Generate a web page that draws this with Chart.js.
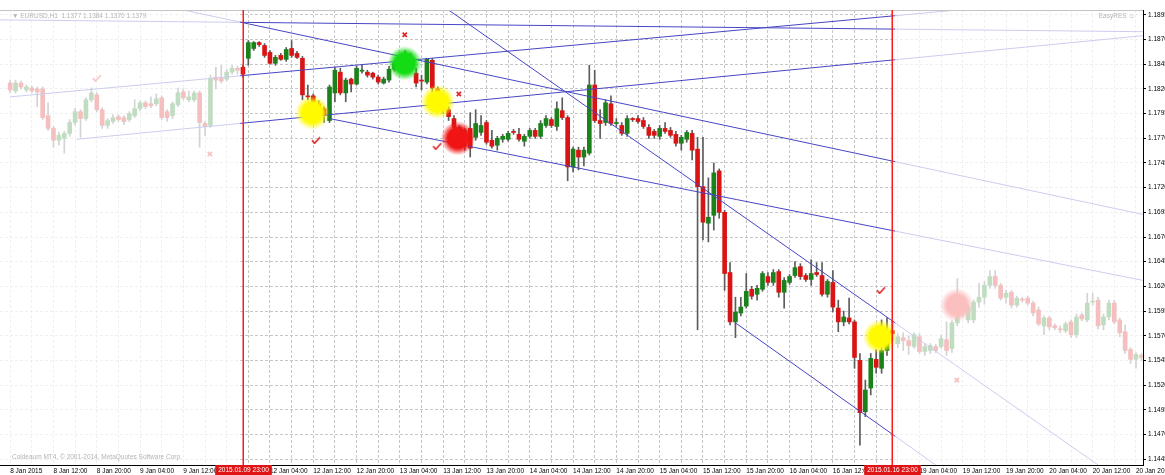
<!DOCTYPE html>
<html>
<head>
<meta charset="utf-8">
<script src="https://cdn.jsdelivr.net/npm/chart.js@4.4.1/dist/chart.umd.min.js"></script>
<style>
  html, body { margin: 0; padding: 0; background: #fff; }
  #wrap { width: 1165px; height: 475px; }
</style>
</head>
<body>
<div id="wrap"><canvas id="chart" width="1165" height="475"></canvas></div>
<script>
// EURUSD H1, bar index = hours since 8 Jan 2015 00:00 (weekend hours skipped)
var firstBar = 4;
var viewFrom = 2.12, viewTo = 213.3;

var opens = [
  1.1826, 1.1818, 1.1826, 1.1819, 1.1821, 1.1820, 1.1820, 1.1793, 1.1780, 1.1768,
  1.1770, 1.1775, 1.1786, 1.1797, 1.1790, 1.1809, 1.1814, 1.1799, 1.1783, 1.1787,
  1.1792, 1.1791, 1.1789, 1.1793, 1.1800, 1.1806, 1.1805, 1.1805, 1.1811, 1.1797,
  1.1793, 1.1804, 1.1817, 1.1809, 1.1809, 1.1816, 1.1785, 1.1783, 1.1832, 1.1831,
  1.1830, 1.1837, 1.1841, 1.1842, 1.1851, 1.1861, 1.1867, 1.1864, 1.1857, 1.1846,
  1.1854, 1.1850, 1.1861, 1.1856, 1.1851, 1.1813, 1.1813, 1.1805, 1.1800, 1.1788,
  1.1816, 1.1837, 1.1816, 1.1830, 1.1825, 1.1838, 1.1837, 1.1836, 1.1832, 1.1826,
  1.1829, 1.1840, 1.1846, 1.1852, 1.1848, 1.1836, 1.1829, 1.1827, 1.1849, 1.1820,
  1.1804, 1.1799, 1.1790, 1.1781, 1.1770, 1.1780, 1.1771, 1.1776, 1.1786, 1.1768,
  1.1763, 1.1769, 1.1769, 1.1777, 1.1774, 1.1767, 1.1772, 1.1778, 1.1772, 1.1783,
  1.1789, 1.1782, 1.1798, 1.1791, 1.1741, 1.1758, 1.1751, 1.1755, 1.1824, 1.1788,
  1.1786, 1.1805, 1.1785, 1.1783, 1.1775, 1.1790, 1.1790, 1.1788, 1.1781, 1.1777,
  1.1772, 1.1780, 1.1778, 1.1774, 1.1765, 1.1769, 1.1775, 1.1759, 1.1721, 1.1684,
  1.1692, 1.1737, 1.1695, 1.1634, 1.1584, 1.1593, 1.1600, 1.1617, 1.1612, 1.1617,
  1.1630, 1.1624, 1.1635, 1.1614, 1.1624, 1.1631, 1.1640, 1.1631, 1.1627, 1.1634,
  1.1631, 1.1612, 1.1624, 1.1598, 1.1584, 1.1588, 1.1584, 1.1545, 1.1493, 1.1517,
  1.1546, 1.1537, 1.1555, 1.1575, 1.1562, 1.1568, 1.1565, 1.1559, 1.1569, 1.1554,
  1.1555, 1.1559, 1.1559, 1.1566, 1.1557, 1.1583, 1.1600, 1.1586, 1.1586, 1.1604,
  1.1609, 1.1621, 1.1630, 1.1621, 1.1609, 1.1614, 1.1601, 1.1607, 1.1608, 1.1603,
  1.1596, 1.1580, 1.1588, 1.1580, 1.1577, 1.1575, 1.1584, 1.1571, 1.1591, 1.1586,
  1.1604, 1.1606, 1.1581, 1.1589, 1.1603, 1.1586, 1.1574, 1.1556, 1.1546, 1.1550
];
var highs = [
  1.1829, 1.1829, 1.1828, 1.1824, 1.1823, 1.1822, 1.1822, 1.1806, 1.1782, 1.1776,
  1.1777, 1.1789, 1.1800, 1.1799, 1.1811, 1.1821, 1.1816, 1.1801, 1.1790, 1.1794,
  1.1794, 1.1793, 1.1797, 1.1809, 1.1808, 1.1808, 1.1812, 1.1815, 1.1813, 1.1799,
  1.1807, 1.1821, 1.1820, 1.1818, 1.1818, 1.1818, 1.1787, 1.1834, 1.1842, 1.1844,
  1.1840, 1.1844, 1.1843, 1.1844, 1.1869, 1.1868, 1.1868, 1.1866, 1.1859, 1.1854,
  1.1856, 1.1862, 1.1869, 1.1858, 1.1853, 1.1824, 1.1815, 1.1808, 1.1802, 1.1824,
  1.1842, 1.1841, 1.1831, 1.1831, 1.1843, 1.1844, 1.1839, 1.1837, 1.1834, 1.1832,
  1.1843, 1.1848, 1.1854, 1.1859, 1.1856, 1.1841, 1.1834, 1.1851, 1.1851, 1.1822,
  1.1806, 1.1802, 1.1793, 1.1783, 1.1780, 1.1796, 1.1799, 1.1793, 1.1788, 1.1778,
  1.1772, 1.1774, 1.1777, 1.1779, 1.1780, 1.1774, 1.1780, 1.1780, 1.1788, 1.1793,
  1.1791, 1.1807, 1.1811, 1.1793, 1.1761, 1.1761, 1.1761, 1.1844, 1.1839, 1.1799,
  1.1809, 1.1813, 1.1790, 1.1786, 1.1793, 1.1791, 1.1793, 1.1791, 1.1784, 1.1779,
  1.1783, 1.1786, 1.1781, 1.1777, 1.1773, 1.1778, 1.1778, 1.1771, 1.1771, 1.1730,
  1.1745, 1.1739, 1.1697, 1.1644, 1.1609, 1.1609, 1.1633, 1.1620, 1.1621, 1.1635,
  1.1634, 1.1637, 1.1637, 1.1629, 1.1632, 1.1645, 1.1643, 1.1633, 1.1647, 1.1644,
  1.1644, 1.1627, 1.1636, 1.1606, 1.1595, 1.1608, 1.1586, 1.1552, 1.1525, 1.1552,
  1.1556, 1.1586, 1.1588, 1.1585, 1.1572, 1.1573, 1.1570, 1.1573, 1.1572, 1.1562,
  1.1562, 1.1561, 1.1571, 1.1584, 1.1585, 1.1628, 1.1605, 1.1601, 1.1606, 1.1623,
  1.1625, 1.1636, 1.1636, 1.1623, 1.1616, 1.1616, 1.1610, 1.1609, 1.1610, 1.1605,
  1.1599, 1.1590, 1.1590, 1.1582, 1.1580, 1.1584, 1.1586, 1.1592, 1.1593, 1.1613,
  1.1613, 1.1609, 1.1592, 1.1606, 1.1606, 1.1588, 1.1581, 1.1558, 1.1553, 1.1552
];
var lows = [
  1.1816, 1.1816, 1.1820, 1.1817, 1.1816, 1.1802, 1.1789, 1.1778, 1.1761, 1.1763,
  1.1755, 1.1772, 1.1783, 1.1771, 1.1788, 1.1807, 1.1797, 1.1780, 1.1780, 1.1785,
  1.1787, 1.1784, 1.1787, 1.1791, 1.1798, 1.1800, 1.1801, 1.1803, 1.1789, 1.1787,
  1.1790, 1.1802, 1.1809, 1.1807, 1.1807, 1.1761, 1.1773, 1.1781, 1.1820, 1.1826,
  1.1828, 1.1835, 1.1835, 1.1832, 1.1844, 1.1859, 1.1863, 1.1852, 1.1845, 1.1844,
  1.1849, 1.1848, 1.1852, 1.1851, 1.1809, 1.1809, 1.1798, 1.1790, 1.1786, 1.1786,
  1.1807, 1.1814, 1.1807, 1.1817, 1.1824, 1.1836, 1.1832, 1.1830, 1.1825, 1.1825,
  1.1827, 1.1838, 1.1844, 1.1846, 1.1840, 1.1822, 1.1819, 1.1825, 1.1817, 1.1798,
  1.1795, 1.1788, 1.1778, 1.1762, 1.1758, 1.1751, 1.1768, 1.1773, 1.1764, 1.1760,
  1.1758, 1.1766, 1.1767, 1.1774, 1.1767, 1.1762, 1.1770, 1.1770, 1.1770, 1.1781,
  1.1781, 1.1778, 1.1789, 1.1727, 1.1736, 1.1738, 1.1742, 1.1753, 1.1786, 1.1770,
  1.1783, 1.1783, 1.1782, 1.1773, 1.1772, 1.1787, 1.1785, 1.1780, 1.1770, 1.1770,
  1.1769, 1.1775, 1.1771, 1.1762, 1.1758, 1.1766, 1.1748, 1.1576, 1.1667, 1.1665,
  1.1677, 1.1689, 1.1616, 1.1581, 1.1568, 1.1590, 1.1598, 1.1607, 1.1606, 1.1615,
  1.1621, 1.1621, 1.1609, 1.1598, 1.1622, 1.1629, 1.1627, 1.1625, 1.1621, 1.1630,
  1.1610, 1.1609, 1.1594, 1.1574, 1.1580, 1.1582, 1.1537, 1.1459, 1.1488, 1.1510,
  1.1532, 1.1532, 1.1550, 1.1565, 1.1558, 1.1555, 1.1551, 1.1557, 1.1552, 1.1550,
  1.1552, 1.1553, 1.1557, 1.1550, 1.1553, 1.1580, 1.1590, 1.1583, 1.1583, 1.1599,
  1.1602, 1.1618, 1.1618, 1.1606, 1.1603, 1.1598, 1.1599, 1.1604, 1.1601, 1.1590,
  1.1580, 1.1571, 1.1576, 1.1576, 1.1573, 1.1573, 1.1568, 1.1568, 1.1585, 1.1584,
  1.1601, 1.1577, 1.1576, 1.1586, 1.1582, 1.1569, 1.1552, 1.1542, 1.1537, 1.1545
];
var closes = [
  1.1819, 1.1826, 1.1822, 1.1822, 1.1818, 1.1817, 1.1791, 1.1780, 1.1768, 1.1773,
  1.1775, 1.1786, 1.1797, 1.1790, 1.1809, 1.1816, 1.1799, 1.1783, 1.1788, 1.1791,
  1.1789, 1.1787, 1.1795, 1.1800, 1.1806, 1.1802, 1.1803, 1.1810, 1.1791, 1.1791,
  1.1805, 1.1816, 1.1811, 1.1812, 1.1816, 1.1786, 1.1782, 1.1831, 1.1829, 1.1828,
  1.1837, 1.1841, 1.1839, 1.1835, 1.1867, 1.1867, 1.1865, 1.1854, 1.1846, 1.1852,
  1.1850, 1.1860, 1.1854, 1.1852, 1.1814, 1.1812, 1.1805, 1.1800, 1.1793, 1.1822,
  1.1839, 1.1816, 1.1829, 1.1825, 1.1841, 1.1839, 1.1834, 1.1832, 1.1827, 1.1830,
  1.1840, 1.1846, 1.1852, 1.1848, 1.1842, 1.1826, 1.1828, 1.1850, 1.1821, 1.1804,
  1.1800, 1.1792, 1.1781, 1.1770, 1.1778, 1.1760, 1.1785, 1.1783, 1.1766, 1.1762,
  1.1770, 1.1772, 1.1775, 1.1776, 1.1769, 1.1772, 1.1778, 1.1772, 1.1785, 1.1790,
  1.1783, 1.1800, 1.1791, 1.1741, 1.1759, 1.1751, 1.1758, 1.1824, 1.1788, 1.1785,
  1.1806, 1.1785, 1.1786, 1.1775, 1.1790, 1.1789, 1.1787, 1.1782, 1.1773, 1.1773,
  1.1780, 1.1777, 1.1773, 1.1765, 1.1771, 1.1776, 1.1758, 1.1721, 1.1685, 1.1690,
  1.1735, 1.1695, 1.1633, 1.1584, 1.1594, 1.1599, 1.1615, 1.1610, 1.1618, 1.1633,
  1.1624, 1.1634, 1.1614, 1.1626, 1.1630, 1.1639, 1.1630, 1.1627, 1.1633, 1.1632,
  1.1612, 1.1625, 1.1599, 1.1584, 1.1589, 1.1584, 1.1548, 1.1492, 1.1515, 1.1547,
  1.1538, 1.1555, 1.1575, 1.1572, 1.1569, 1.1565, 1.1560, 1.1571, 1.1554, 1.1559,
  1.1560, 1.1555, 1.1567, 1.1555, 1.1583, 1.1603, 1.1596, 1.1599, 1.1604, 1.1609,
  1.1621, 1.1630, 1.1621, 1.1608, 1.1613, 1.1601, 1.1608, 1.1606, 1.1603, 1.1593,
  1.1582, 1.1588, 1.1579, 1.1578, 1.1576, 1.1582, 1.1571, 1.1589, 1.1587, 1.1603,
  1.1605, 1.1580, 1.1589, 1.1603, 1.1584, 1.1573, 1.1555, 1.1546, 1.1551, 1.1548
];

// highlighted week (bar index of the two red separators)
var periodStart = 47, periodEnd = 167;
var periodLabels = ['2015.01.09 23:00', '2015.01.16 23:00'];

var tickHours = [4, 12, 20, 28, 36, 44, 52, 60, 68, 76, 84, 92, 100, 108, 116, 124, 132,
  140, 148, 156, 164, 172, 180, 188, 196, 204, 212];
var tickLabels = ['8 Jan 2015', '8 Jan 12:00', '8 Jan 20:00', '9 Jan 04:00', '9 Jan 12:00',
  '9 Jan 20:00', '12 Jan 04:00', '12 Jan 12:00', '12 Jan 20:00', '13 Jan 04:00', '13 Jan 12:00',
  '13 Jan 20:00', '14 Jan 04:00', '14 Jan 12:00', '14 Jan 20:00', '15 Jan 04:00', '15 Jan 12:00',
  '15 Jan 20:00', '16 Jan 04:00', '16 Jan 12:00', '16 Jan 20:00', '19 Jan 04:00', '19 Jan 12:00',
  '19 Jan 20:00', '20 Jan 04:00', '20 Jan 12:00', '20 Jan 20:00'];
var priceTicks = [1.1445, 1.1470, 1.1495, 1.1520, 1.1545, 1.1570, 1.1595, 1.1620, 1.1645,
  1.1670, 1.1695, 1.1720, 1.1745, 1.1770, 1.1795, 1.1820, 1.1845, 1.1870, 1.1895];

// trend lines: [[bar, price], [bar, price]]
var trendLines = [
  [[2.1, 1.1890], [213.3, 1.1878]],
  [[36, 1.1900], [214, 1.1692]],
  [[4, 1.1812], [179, 1.1900]],
  [[16.3, 1.1769], [213.3, 1.1874]],
  [[85, 1.1900], [205, 1.1439]],
  [[63, 1.1790], [213.3, 1.1626]],
  [[138, 1.1583], [175, 1.1439]]
];

// signal markers [bar, price]
var yellowSignals = [[59.8, 1.1796], [83.0, 1.1807], [164.7, 1.1569]];
var greenSignals = [[76.9, 1.1846]];
var redSignals = [[86.7, 1.1770], [178.9, 1.1601]];
var checkMarks = [[20.0, 1.1831], [60.5, 1.1768], [82.9, 1.1762], [164.9, 1.1616]];
var crossMarks = [[40.9, 1.1754], [76.9, 1.1875], [86.9, 1.1815], [178.9, 1.1525]];

var FONT = 'Liberation Sans';
var FONT_SIZE = 6.5;

function glow(r, g, b) {
  var c = document.createElement('canvas');
  c.width = 34; c.height = 34;
  var x = c.getContext('2d');
  var grad = x.createRadialGradient(17, 17, 0, 17, 17, 17);
  grad.addColorStop(0, 'rgba(' + r + ',' + g + ',' + b + ',1)');
  grad.addColorStop(0.6, 'rgba(' + r + ',' + g + ',' + b + ',1)');
  grad.addColorStop(1, 'rgba(' + r + ',' + g + ',' + b + ',0)');
  x.fillStyle = grad;
  x.fillRect(0, 0, 34, 34);
  return c;
}

function tick() {
  var c = document.createElement('canvas');
  c.width = 10; c.height = 8;
  var x = c.getContext('2d');
  x.strokeStyle = '#dd2020';
  x.lineWidth = 1.6;
  x.beginPath();
  x.moveTo(1, 4); x.lineTo(3.5, 7); x.lineTo(9, 1);
  x.stroke();
  return c;
}

function pts(arr) {
  return arr.map(function (p) { return { x: p[0], y: p[1] }; });
}

var bodyData = [], wickData = [], bodyColors = [];
opens.forEach(function (o, i) {
  var h = firstBar + i;
  wickData.push({ x: h, y: [lows[i], highs[i]] });
  bodyData.push({ x: h, y: [o, closes[i]] });
  bodyColors.push(closes[i] >= o ? '#1b821b' : '#d81414');
});

var datasets = [
  { type: 'line', data: pts(yellowSignals), showLine: false, pointStyle: glow(255, 250, 0), order: 0 },
  { type: 'line', data: pts(greenSignals), showLine: false, pointStyle: glow(20, 220, 20), order: 0 },
  { type: 'line', data: pts(redSignals), showLine: false, pointStyle: glow(240, 20, 20), order: 0 },
  { type: 'line', data: pts(checkMarks), showLine: false, pointStyle: tick(), order: 0 },
  { type: 'line', data: pts(crossMarks), showLine: false, pointStyle: 'crossRot', pointRadius: 3,
    pointBorderColor: '#e02828', pointBorderWidth: 1.8, order: 0 }
];
trendLines.forEach(function (l) {
  datasets.push({ type: 'line', data: pts(l), borderColor: '#4646c4', borderWidth: 1,
    pointRadius: 0, order: 1 });
});
datasets.push({ type: 'bar', data: bodyData, backgroundColor: bodyColors, borderWidth: 0,
  barThickness: 4, grouped: false, minBarLength: 1, order: 2 });
datasets.push({ type: 'bar', data: wickData, backgroundColor: '#5c5c5c', borderWidth: 0,
  barThickness: 1, grouped: false, order: 3 });

var mt4Frame = {
  id: 'mt4Frame',
  afterDatasetsDraw: function (chart) {
    var ctx = chart.ctx, a = chart.chartArea, xs = chart.scales.x;
    var left = xs.getPixelForValue(periodStart - 0.5);
    var right = xs.getPixelForValue(periodEnd + 0.5);
    ctx.save();
    // fade everything outside the selected week
    ctx.fillStyle = 'rgba(255,255,255,0.73)';
    ctx.fillRect(a.left, a.top, left - a.left, a.bottom - a.top);
    ctx.fillRect(right, a.top, a.right - right, a.bottom - a.top);
    // top frame line
    ctx.fillStyle = '#c4c4c4';
    ctx.fillRect(a.left, a.top, a.right - a.left, 1);
    // window captions
    ctx.font = FONT_SIZE + 'px "' + FONT + '"';
    ctx.textBaseline = 'middle';
    ctx.fillStyle = '#b4b4b4';
    ctx.textAlign = 'left';
    ctx.fillText('\u25BC EURUSD,H1  1.1377 1.1384 1.1370 1.1379', 12, a.top + 6);
    ctx.fillText('Coldeaum MT4, \u00A9 2001-2014, MetaQuotes Software Corp.', 12, a.bottom - 8);
    ctx.textAlign = 'right';
    ctx.fillText('EasyRES \u263A', a.right - 8, a.top + 6);
    ctx.restore();
  },
  afterDraw: function (chart) {
    var ctx = chart.ctx, a = chart.chartArea, xs = chart.scales.x;
    ctx.save();
    ctx.font = FONT_SIZE + 'px "' + FONT + '"';
    ctx.textAlign = 'center';
    ctx.textBaseline = 'middle';
    [periodStart, periodEnd].forEach(function (h, i) {
      var px = Math.round(xs.getPixelForValue(h));
      // red separator
      ctx.fillStyle = '#ff1a1a';
      ctx.fillRect(px - 0.5, a.top, 1.5, a.bottom - a.top);
      // red date label on the time axis
      var w = ctx.measureText(periodLabels[i]).width + 6;
      ctx.fillStyle = '#e01414';
      ctx.fillRect(px + 0.5 - w / 2, a.bottom, w, chart.height - a.bottom);
      ctx.fillStyle = '#fff';
      ctx.fillText(periodLabels[i], px + 0.5, a.bottom + 5.5);
    });
    ctx.restore();
  }
};

new Chart(document.getElementById('chart'), {
  type: 'bar',
  data: { datasets: datasets },
  options: {
    responsive: false,
    animation: false,
    devicePixelRatio: 1,
    events: [],
    layout: { autoPadding: false, padding: { top: 10, left: 0, right: 0, bottom: 0 } },
    plugins: { legend: { display: false }, tooltip: { enabled: false } },
    scales: {
      x: {
        type: 'linear',
        min: viewFrom,
        max: viewTo,
        offset: false,
        afterBuildTicks: function (s) {
          var t = [];
          for (var h = tickHours[0]; h <= tickHours[tickHours.length - 1]; h += 4) t.push({ value: h });
          s.ticks = t;
        },
        afterFit: function (s) { s.height = 10; s.paddingLeft = 0; s.paddingRight = 0; },
        grid: { color: '#c6c6c6', drawTicks: false, offset: false },
        border: { display: true, color: '#000', dash: [3, 2] },
        ticks: {
          autoSkip: false, maxRotation: 0, minRotation: 0, align: 'start', padding: 2,
          color: '#000', font: { family: FONT, size: FONT_SIZE },
          callback: function (v) {
            var k = tickHours.indexOf(v);
            return k < 0 ? '' : tickLabels[k];
          }
        }
      },
      y: {
        position: 'right',
        min: 1.1439,
        max: 1.1900,
        afterBuildTicks: function (s) {
          s.ticks = priceTicks.map(function (v) { return { value: v }; });
        },
        afterFit: function (s) { s.width = 22; s.paddingTop = 0; s.paddingBottom = 0; },
        grid: { color: '#c6c6c6', tickColor: '#000', tickLength: 3 },
        border: { display: true, color: '#000', dash: [3, 2] },
        ticks: {
          padding: 2, color: '#000', font: { family: FONT, size: FONT_SIZE },
          callback: function (v) { return v.toFixed(5); }
        }
      }
    }
  },
  plugins: [mt4Frame]
});
</script>
</body>
</html>
